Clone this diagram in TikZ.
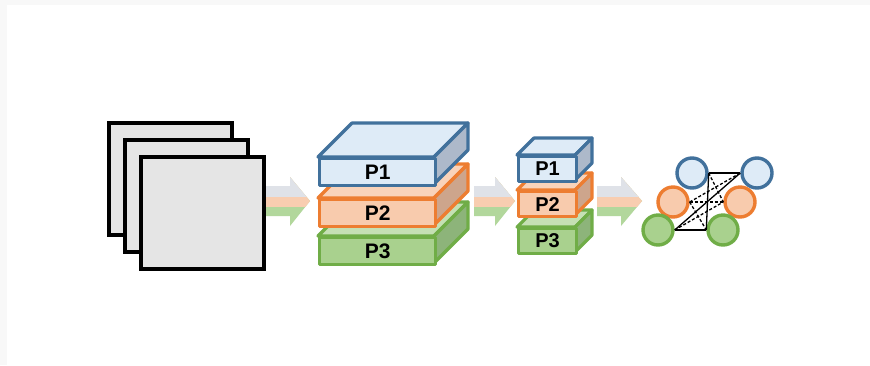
\documentclass[tikz,border=0pt]{standalone}
\usepackage{fontspec}
\setmainfont{Liberation Sans}
\definecolor{bgedge}{HTML}{F8F8F8}
\definecolor{framegray}{HTML}{E5E5E5}
\definecolor{arrgray}{HTML}{DFE2E8}
\definecolor{arrorange}{HTML}{F8CDB0}
\definecolor{arrgreen}{HTML}{B2D79C}
\definecolor{blueline}{HTML}{41719C}
\definecolor{bluefill}{HTML}{DEEBF7}
\definecolor{bluetop}{HTML}{DEEBF7}
\definecolor{blueside}{HTML}{ADB9CA}
\definecolor{orangeline}{HTML}{ED7D31}
\definecolor{orangefill}{HTML}{F8CBAD}
\definecolor{orangetop}{HTML}{F9D3BA}
\definecolor{orangeside}{HTML}{CDA58C}
\definecolor{greenline}{HTML}{70AD47}
\definecolor{greenfill}{HTML}{A9D18E}
\definecolor{greentop}{HTML}{C5E0B4}
\definecolor{greenside}{HTML}{8DB47A}
\tikzset{
  framebox/.style={draw=black, line width=4.2pt, fill=framegray, inner sep=0pt, anchor=north west, minimum width=123pt, minimum height=112pt},
  boxline/.style={line width=3.2pt, line join=round},
  neuron/.style={circle, line width=3.4pt, minimum size=30pt, inner sep=0pt},
  link/.style={line width=1.3pt, black},
  dlink/.style={line width=1.3pt, black, dash pattern=on 3pt off 2pt},
}
% #1 x0, #2 head base x, #3 apex x
\newcommand\bandarrow[3]{%
  \fill[arrgreen] (#1,186) -- (#2,186) -- (#2,177) -- (#3,201) -- (#2,226) -- (#2,216) -- (#1,216) -- cycle;
  \begin{scope}
    \clip (#1-1,160) rectangle (#3+1,206);
    \fill[arrorange] (#1,186) -- (#2,186) -- (#2,177) -- (#3,201) -- (#2,226) -- (#2,216) -- (#1,216) -- cycle;
  \end{scope}
  \begin{scope}
    \clip (#1-1,160) rectangle (#3+1,196);
    \fill[arrgray] (#1,186) -- (#2,186) -- (#2,177) -- (#3,201) -- (#2,226) -- (#2,216) -- (#1,216) -- cycle;
  \end{scope}
}
% #1 name, #2 left, #3 top, #4 width, #5 height, #6 depth, #7 scheme, #8 label, #9 font size
\newcommand\mkcuboid[9]{%
  \draw[boxline, draw=#7line, fill=#7top] (#2,#3) -- ++(#6,-#6) -- ++(#4,0) -- ++(-#6,#6) -- cycle;
  \draw[boxline, draw=#7line, fill=#7side] (#2+#4,#3) -- ++(#6,-#6) -- ++(0,#5) -- ++(-#6,#6) -- cycle;
  \node[boxline, draw=#7line, fill=#7fill, anchor=north west, inner sep=0pt,
        minimum width=#4pt, minimum height=#5pt,
        font=\fontsize{#9}{#9}\selectfont\bfseries] (#1) at (#2,#3) {#8};
}
\begin{document}
\begin{tikzpicture}[x=1pt,y=-1pt]
\fill[bgedge] (0,0) rectangle (870,365);
\fill[white] (7,5) rectangle (870,365);
\useasboundingbox (0,0) rectangle (870,365);

% input frames
\node[framebox] (f1) at (107,121) {};
\node[framebox] (f2) at (123,138) {};
\node[framebox] (f3) at (139,155) {};

% arrows
\bandarrow{266}{290}{310}
\bandarrow{474}{495}{515}
\bandarrow{597}{621}{642}

% large cuboids
\mkcuboid{bp3}{318}{236}{116}{27}{34}{green}{P3}{21}
\mkcuboid{bp2}{318}{198}{116}{27}{34}{orange}{P2}{21}
\mkcuboid{bp1}{318}{157}{116}{27}{34}{blue}{P1}{21}

% small cuboids
\mkcuboid{sp3}{517}{227}{58}{25}{17}{green}{P3}{20}
\mkcuboid{sp2}{517}{190}{58}{25}{17}{orange}{P2}{20}
\mkcuboid{sp1}{517}{155}{58}{25}{17}{blue}{P1}{20}

% network
\node[neuron, draw=blueline, fill=bluefill] (bL) at (692,173) {};
\node[neuron, draw=blueline, fill=bluefill] (bR) at (757,173) {};
\node[neuron, draw=orangeline, fill=orangefill] (oL) at (673,202) {};
\node[neuron, draw=orangeline, fill=orangefill] (oR) at (740,202) {};
\node[neuron, draw=greenline, fill=greenfill] (gL) at (658,230) {};
\node[neuron, draw=greenline, fill=greenfill] (gR) at (723,230) {};

\draw[link] (bL.east) -- (bR.west);
\draw[link] (gL.east) -- (gR.west);
\draw[link] (bL.east) -- (gR.west);
\draw[link] (gL.east) -- (bR.west);
\draw[dlink] (oL.east) -- (oR.west);
\draw[dlink] (bL.east) -- (oR.west);
\draw[dlink] (oL.east) -- (bR.west);
\draw[dlink] (gL.east) -- (oR.west);
\draw[dlink] (oL.east) -- (gR.west);
\end{tikzpicture}
\end{document}
